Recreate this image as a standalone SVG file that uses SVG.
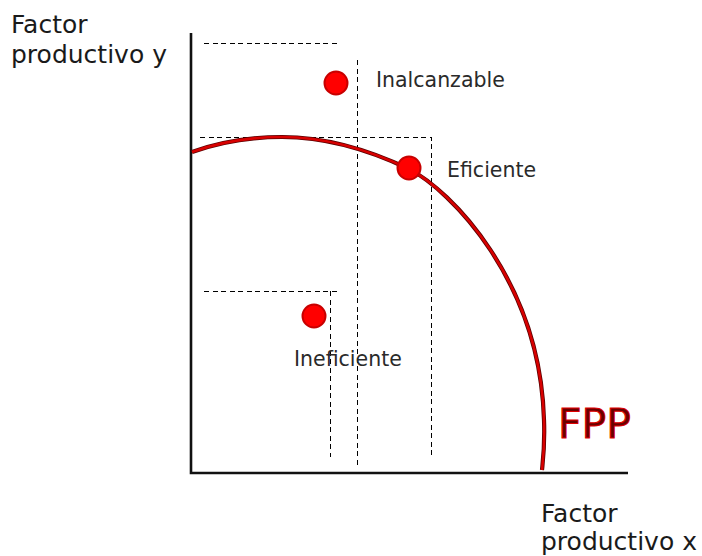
<svg xmlns="http://www.w3.org/2000/svg" width="702" height="556" viewBox="0 0 702 556">
<style>
.axis{stroke:#111;stroke-width:2.6;fill:none}
.dash{stroke:#000;stroke-width:1;stroke-dasharray:5,3.5;fill:none;shape-rendering:crispEdges}
.lbl{font-family:"DejaVu Sans",Verdana,sans-serif;font-size:25px;fill:#1a1a1a}
.pt{font-family:"DejaVu Sans",Verdana,sans-serif;font-size:20.5px;fill:#2a2a2a}
.dot{fill:#ff0000;stroke:#c80000;stroke-width:2}
</style>
<rect width="702" height="556" fill="#fff"/>
<g id="guides">
<path class="dash" d="M204,43.5H340"/>
<path class="dash" d="M357.5,60V466"/>
<path class="dash" d="M200,137.5H431.5V459"/>
<path class="dash" d="M204,291.5H337"/>
<path class="dash" d="M330.5,291V457"/>
</g>
<g id="axes">
<path class="axis" d="M191,33V473H628"/>
</g>
<g id="fpp-curve">
<path d="M192,152 C220,142 250,137 282,137 C320,137 365,148 409,169 C450,190 540,280 544,420 C545,445 543,460 542,470" fill="none" stroke="#5a0000" stroke-width="4.2"/>
<path d="M192,152 C220,142 250,137 282,137 C320,137 365,148 409,169 C450,190 540,280 544,420 C545,445 543,460 542,470" fill="none" stroke="#d80000" stroke-width="2.6"/>
</g>
<g id="node-inalcanzable">
<circle class="dot" cx="336" cy="83" r="11.5"/>
<text class="pt" x="376" y="87">Inalcanzable</text>
</g>
<g id="node-eficiente">
<circle class="dot" cx="409" cy="168" r="11.5"/>
<text class="pt" x="447" y="177">Eficiente</text>
</g>
<g id="node-ineficiente">
<circle class="dot" cx="314" cy="316" r="11.5"/>
<text class="pt" x="294" y="366">Ineficiente</text>
</g>
<g id="label-fpp">
<text x="558" y="438" font-family="DejaVu Sans,Verdana,sans-serif" font-size="41" fill="#6a0000" stroke="#e00000" stroke-width="1">FPP</text>
</g>
<g id="label-y">
<text class="lbl" x="11" y="33">Factor</text>
<text class="lbl" x="11" y="63">productivo y</text>
</g>
<g id="label-x">
<text class="lbl" x="541" y="522">Factor</text>
<text class="lbl" x="541" y="550">productivo x</text>
</g>
</svg>
